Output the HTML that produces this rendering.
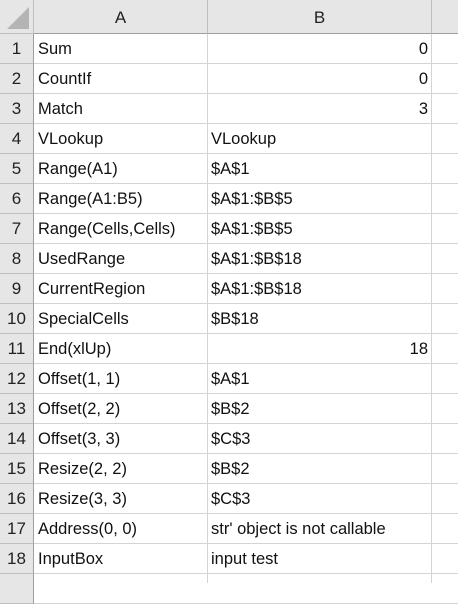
<!DOCTYPE html>
<html><head><meta charset="utf-8"><style>
body{margin:0;width:458px;height:583px;overflow:hidden;background:#fff;font-family:"Liberation Sans","Noto Sans CJK JP",sans-serif;}
.g{position:absolute;left:0;top:0;}
.hdr{position:absolute;background:#e6e6e6;color:#222;font-size:17px;text-align:center;box-sizing:border-box;}
.cell{position:absolute;height:30px;line-height:30px;font-size:16.5px;color:#111;box-sizing:border-box;white-space:nowrap;overflow:hidden;}
.vl{position:absolute;width:1px;background:#d4d4d4;}
.hl{position:absolute;height:1px;background:#d4d4d4;}
</style></head><body>
<div id="sheet">
<div class="hdr" style="left:0;top:0;width:34px;height:34px;border-right:1px solid #bfbfbf;border-bottom:1px solid #bfbfbf;">
<div style="position:absolute;right:4px;bottom:4px;width:0;height:0;border-left:22px solid transparent;border-bottom:22px solid #b4b4b4;"></div></div>
<div class="hdr" style="left:34px;top:0;width:174px;height:34px;line-height:36px;border-right:1px solid #bfbfbf;border-bottom:1px solid #9f9f9f;">A</div>
<div class="hdr" style="left:208px;top:0;width:224px;height:34px;line-height:36px;border-right:1px solid #bfbfbf;border-bottom:1px solid #9f9f9f;">B</div>
<div class="hdr" style="left:432px;top:0;width:26px;height:34px;border-bottom:1px solid #9f9f9f;"></div>
<div id="rows"></div>
</div>
<script>
const colA=["Sum","CountIf","Match","VLookup","Range(A1)","Range(A1:B5)","Range(Cells,Cells)","UsedRange","CurrentRegion","SpecialCells","End(xlUp)","Offset(1, 1)","Offset(2, 2)","Offset(3, 3)","Resize(2, 2)","Resize(3, 3)","Address(0, 0)","InputBox"];
const colB=["0","0","3","VLookup","$A$1","$A$1:$B$5","$A$1:$B$5","$A$1:$B$18","$A$1:$B$18","$B$18","18","$A$1","$B$2","$C$3","$B$2","$C$3","str' object is not callable","input test"];
const rows=document.getElementById('rows');
for(let i=0;i<19;i++){
  const top=34+i*30;
  const h=document.createElement('div');h.className='hdr';
  
  
  h.style.cssText=`left:0;top:${top}px;width:34px;height:30px;line-height:30px;border-right:1px solid #9f9f9f;border-bottom:1px solid #bfbfbf;font-size:17px;`;
  h.textContent=i<18?String(i+1):'';rows.appendChild(h);
  const l=document.createElement('div');l.className='hl';l.style.cssText=`left:34px;top:${top+29}px;width:424px;`;
  
  
  rows.appendChild(l);
  if(i<18){
    const a=document.createElement('div');a.className='cell';
    
    
    a.style.cssText=`left:38px;top:${top}px;width:168px;`;a.textContent=colA[i];rows.appendChild(a);
    const b=document.createElement('div');b.className='cell';
    
    
    const num=/^\d+$/.test(colB[i]);
    b.style.cssText=`left:211px;top:${top}px;width:217px;text-align:${num?'right':'left'};`;b.textContent=colB[i];rows.appendChild(b);
  }
}
[207,431].forEach(x=>{const v=document.createElement('div');v.className='vl';v.style.cssText=`left:${x}px;top:34px;height:549px;`;


rows.appendChild(v);});
</script>
</body></html>
